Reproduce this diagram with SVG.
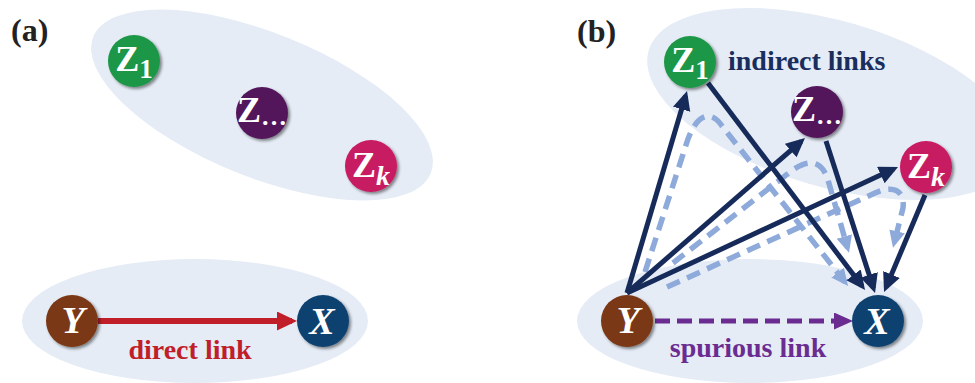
<svg xmlns="http://www.w3.org/2000/svg" width="975" height="383" viewBox="0 0 975 383">
<defs>
<style>
.grp{fill:#e5ecf6}
.lbl{font-family:"Liberation Serif","Times New Roman",serif;font-weight:bold}
.nt{font-family:"Liberation Serif","Times New Roman",serif;font-weight:bold;fill:#fff;text-anchor:middle}
.solid{fill:none;stroke:#172b5a;stroke-width:5;marker-end:url(#ahNavy)}
.dash{fill:none;stroke:#8eaadb;stroke-width:5.5;stroke-dasharray:14 8;marker-end:url(#ahBlue)}
</style>
<filter id="sh" x="-30%" y="-30%" width="170%" height="170%">
<feDropShadow dx="2" dy="2" stdDeviation="1.6" flood-color="#000" flood-opacity="0.45"/>
</filter>
<marker id="ahRed" markerUnits="userSpaceOnUse" markerWidth="22" markerHeight="22" refX="15" refY="9.5" orient="auto"><path d="M0,0 L20,9.5 L0,19 z" fill="#c01f2a"/></marker>
<marker id="ahNavy" markerUnits="userSpaceOnUse" markerWidth="22" markerHeight="22" refX="14" refY="9" orient="auto"><path d="M0,0 L19,9 L0,18 z" fill="#172b5a"/></marker>
<marker id="ahBlue" markerUnits="userSpaceOnUse" markerWidth="22" markerHeight="22" refX="12" refY="8" orient="auto"><path d="M0,0 L17,8 L0,16 z" fill="#8eaadb"/></marker>
<marker id="ahPurple" markerUnits="userSpaceOnUse" markerWidth="22" markerHeight="22" refX="14" refY="8.5" orient="auto"><path d="M0,0 L19,8.5 L0,17 z" fill="#6b2c91"/></marker>
</defs>

<!-- backgrounds -->
<g id="groups">
<ellipse class="grp" cx="262" cy="105" rx="182" ry="72" transform="rotate(22 262 105)"/>
<ellipse class="grp" cx="195" cy="321" rx="173" ry="62"/>
<ellipse class="grp" cx="832" cy="104" rx="191" ry="83" transform="rotate(16.3 832 104)"/>
<ellipse class="grp" cx="750" cy="321" rx="173" ry="62"/>
</g>

<text class="lbl" x="11" y="41" font-size="32" fill="#222">(a)</text>
<text class="lbl" x="577" y="42" font-size="32" fill="#222">(b)</text>

<!-- connectors -->
<g id="connectors">
<line x1="98" y1="321" x2="292" y2="321" stroke="#c01f2a" stroke-width="6" marker-end="url(#ahRed)"/>
<path class="dash" d="M645,272 L686,145 C695,115 710,108 722,126 L845,282"/>
<path class="dash" d="M673,263 L790,172 C808,158 822,160 828,180 L847.6,248"/>
<path class="dash" d="M667,287 L875,193 C893,185 905,190 903,208 L894.2,243"/>
<line class="solid" x1="627" y1="293" x2="685.6" y2="95.8"/>
<line class="solid" x1="627" y1="293" x2="801.2" y2="141.3"/>
<line class="solid" x1="627" y1="293" x2="893.5" y2="169.1"/>
<line class="solid" x1="708" y1="83" x2="862" y2="286"/>
<line class="solid" x1="826" y1="141" x2="873.5" y2="288.2"/>
<line class="solid" x1="925" y1="195" x2="886" y2="287.4"/>
<line x1="655" y1="321" x2="848" y2="321" stroke="#6b2c91" stroke-width="5" stroke-dasharray="15 7" marker-end="url(#ahPurple)"/>
</g>

<text class="lbl" x="190" y="359" font-size="28" fill="#c01f2a" text-anchor="middle">direct link</text>
<text class="lbl" x="748" y="357" font-size="28" fill="#6b2c91" text-anchor="middle">spurious link</text>
<text class="lbl" x="728" y="70" font-size="28" fill="#1a2e5d">indirect links</text>

<!-- panel (a) nodes -->
<g id="a-Z1"><circle cx="134" cy="61" r="26" fill="#1e9646" filter="url(#sh)"/><text class="nt" x="134" y="71" font-size="36">Z<tspan dy="7" font-size="27">1</tspan></text></g>
<g id="a-Zdots"><circle cx="262" cy="113" r="26" fill="#52155a" filter="url(#sh)"/><text class="nt" x="262" y="122" font-size="36">Z<tspan dy="3" font-size="26">…</tspan></text></g>
<g id="a-Zk"><circle cx="371" cy="166" r="26" fill="#c81a62" filter="url(#sh)"/><text class="nt" x="371" y="177" font-size="36">Z<tspan dy="8" font-size="28" font-style="italic">k</tspan></text></g>
<g id="a-Y"><circle cx="72" cy="321" r="26" fill="#7a3815" filter="url(#sh)"/><text class="nt" x="73" y="333" font-size="38" font-style="italic">Y</text></g>
<g id="a-X"><circle cx="323" cy="321" r="26" fill="#0f4270" filter="url(#sh)"/><text class="nt" x="322" y="334" font-size="38" font-style="italic">X</text></g>

<!-- panel (b) nodes -->
<g id="b-Z1"><circle cx="690" cy="62" r="26" fill="#1e9646" filter="url(#sh)"/><text class="nt" x="690" y="72" font-size="36">Z<tspan dy="7" font-size="27">1</tspan></text></g>
<g id="b-Zdots"><circle cx="817" cy="112" r="26" fill="#52155a" filter="url(#sh)"/><text class="nt" x="817" y="121" font-size="36">Z<tspan dy="3" font-size="26">…</tspan></text></g>
<g id="b-Zk"><circle cx="926" cy="167" r="26" fill="#c81a62" filter="url(#sh)"/><text class="nt" x="926" y="178" font-size="36">Z<tspan dy="8" font-size="28" font-style="italic">k</tspan></text></g>
<g id="b-Y"><circle cx="627" cy="321" r="26" fill="#7a3815" filter="url(#sh)"/><text class="nt" x="628" y="333" font-size="38" font-style="italic">Y</text></g>
<g id="b-X"><circle cx="878" cy="321" r="26" fill="#0f4270" filter="url(#sh)"/><text class="nt" x="877" y="334" font-size="38" font-style="italic">X</text></g>
</svg>
